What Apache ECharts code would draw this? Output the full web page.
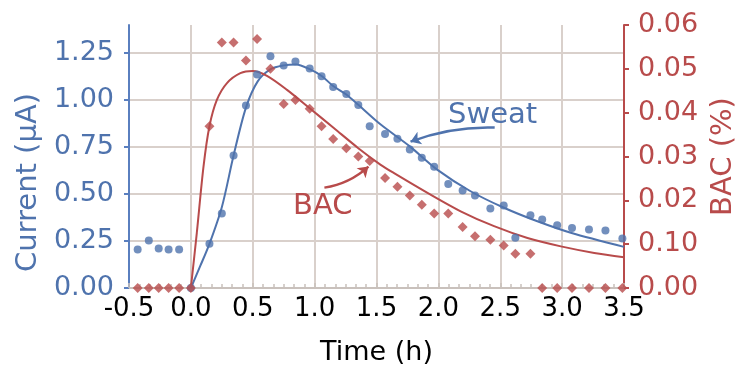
<!DOCTYPE html>
<html>
<head>
<meta charset="utf-8">
<script src="https://cdn.jsdelivr.net/npm/echarts@6/dist/echarts.min.js"></script>
<style>html,body{margin:0;padding:0;background:#fff}#c{width:743px;height:368px}</style>
</head>
<body>
<div id="c"></div>
<script>
// sampling times (h)
const times = [-0.43,-0.34,-0.26,-0.18,-0.095,0.0,0.15,0.25,0.345,0.445,0.535,0.643,0.75,0.845,0.96,1.056,1.15,1.256,1.353,1.445,1.569,1.669,1.769,1.866,1.966,2.08,2.196,2.296,2.42,2.528,2.622,2.744,2.839,2.96,3.08,3.217,3.35,3.487];
// sweat current (uA)
const sweat = [0.205,0.253,0.21,0.205,0.205,0.0,0.235,0.396,0.705,0.972,1.136,1.233,1.185,1.206,1.168,1.127,1.07,1.033,0.974,0.861,0.82,0.794,0.737,0.693,0.645,0.554,0.519,0.492,0.423,0.439,0.267,0.387,0.364,0.334,0.32,0.311,0.306,0.263];
// blood alcohol (%)
const bac = [0,0,0,0,0,0,0.0369,0.056,0.056,0.0519,0.0568,0.050,0.042,0.0429,0.0409,0.0369,0.034,0.0319,0.030,0.029,0.0251,0.0231,0.0211,0.019,0.017,0.017,0.0139,0.0118,0.011,0.0097,0.0078,0.0078,0,0,0,0,0,0];
// fitted curves
const sweatFitT = [0,0.075,0.15,0.25,0.345,0.445,0.54,0.645,0.75,0.85,0.96,1.06,1.15,1.256,1.353,1.534,1.769,1.99,2.26,2.53,2.80,3.07,3.5];
const sweatFitV = [0,0.116,0.235,0.43,0.705,0.96,1.10,1.165,1.185,1.19,1.165,1.127,1.075,1.03,0.975,0.87,0.754,0.63,0.515,0.427,0.355,0.294,0.219];
const bacFitT = [0,0.048,0.102,0.15,0.21,0.29,0.4,0.5,0.615,0.777,0.96,1.155,1.353,1.534,1.642,1.912,2.18,2.45,2.72,2.99,3.26,3.5];
const bacFitV = [0,0.0126,0.0277,0.0369,0.0429,0.0467,0.049,0.0495,0.0484,0.0452,0.041,0.0365,0.0319,0.0281,0.0262,0.0217,0.0175,0.0141,0.0114,0.0095,0.008,0.007];
// tick labels
const xTicks = [-0.5,0,0.5,1,1.5,2,2.5,3,3.5];
const leftTicks = [0,0.25,0.5,0.75,1.0,1.25];
const rightTickLabels = ['0.00','0.10','0.02','0.03','0.04','0.05','0.06'];
// annotation arrows (data units: [time, value])
const sweatArrow = [[2.455, 0.854], [1.775, 0.779]];
const bacArrow = [[1.079, 0.0229], [1.435, 0.0277]];

const BLUE = '#4f73ad', RED = '#b84b4b', GRID = '#d9d0cb', FONT = 'DejaVu Sans';
const zip = (a, b) => a.map((v, i) => [v, b[i]]);

const chart = echarts.init(document.getElementById('c'), null, {renderer: 'canvas'});
chart.setOption({
  animation: false,
  backgroundColor: '#fff',
  title: [
    {text: 'Sweat', left: 448, top: 100, padding: 0,
      textStyle: {color: BLUE, fontSize: 29, fontFamily: FONT, fontWeight: 'normal', lineHeight: 30}},
    {text: 'BAC', left: 293, top: 191, padding: 0,
      textStyle: {color: RED, fontSize: 29, fontFamily: FONT, fontWeight: 'normal', lineHeight: 30}}
  ],
  grid: {left: 129, right: 119, top: 25, bottom: 80, containLabel: false, outerBoundsMode: 'none'},
  xAxis: {
    type: 'value', min: xTicks[0], max: xTicks[xTicks.length - 1], interval: 0.5,
    name: 'Time (h)', nameLocation: 'middle', nameGap: 51,
    nameTextStyle: {color: '#000', fontSize: 27, fontFamily: FONT},
    axisLine: {onZero: false, lineStyle: {color: '#c9c1bc', width: 2}},
    axisTick: {show: true, inside: true, length: 5, lineStyle: {color: '#c9c1bc', width: 1.5}},
    minorTick: {show: true, splitNumber: 6, length: 4, lineStyle: {color: '#c9c1bc', width: 1.5}},
    axisLabel: {color: '#000', fontSize: 26, fontFamily: FONT, margin: 8, formatter: v => v.toFixed(1)},
    splitLine: {show: true, lineStyle: {color: GRID, width: 2}}
  },
  yAxis: [{
    type: 'value', min: 0, max: 1.4, interval: 0.25, position: 'left',
    name: 'Current (µA)', nameLocation: 'middle', nameRotate: 90, nameGap: 86,
    nameTextStyle: {color: BLUE, fontSize: 29, fontFamily: FONT, padding: [0, 52, 0, 0]},
    axisLine: {show: true, onZero: false, lineStyle: {color: '#5a7fbf', width: 2}},
    axisTick: {show: true, length: 5, customValues: leftTicks, lineStyle: {color: '#5a7fbf', width: 2}},
    axisLabel: {color: BLUE, fontSize: 27, fontFamily: FONT, margin: 15, customValues: leftTicks, formatter: v => v.toFixed(2)},
    splitLine: {show: true, lineStyle: {color: GRID, width: 2}}
  }, {
    type: 'value', min: 0, max: 0.06, interval: 0.01, position: 'right',
    name: 'BAC (%)', nameLocation: 'middle', nameRotate: 90, nameGap: 82,
    nameTextStyle: {color: RED, fontSize: 29, fontFamily: FONT},
    axisLine: {show: true, onZero: false, lineStyle: {color: RED, width: 2}},
    axisTick: {show: true, length: 5, lineStyle: {color: RED, width: 2}},
    axisLabel: {color: RED, fontSize: 27, fontFamily: FONT, margin: 14,
      formatter: v => rightTickLabels[Math.round(v / 0.01)]},
    splitLine: {show: false}
  }],
  series: [{
    type: 'line', yAxisIndex: 0, data: zip(sweatFitT, sweatFitV), smooth: 0.3, showSymbol: false,
    lineStyle: {color: BLUE, width: 2}
  }, {
    type: 'line', yAxisIndex: 1, data: zip(bacFitT, bacFitV), smooth: 0.3, showSymbol: false,
    lineStyle: {color: RED, width: 2}
  }, {
    type: 'scatter', yAxisIndex: 0, data: zip(times, sweat), symbol: 'circle', symbolSize: 8,
    itemStyle: {color: BLUE}, z: 3
  }, {
    type: 'scatter', yAxisIndex: 1, data: zip(times, bac), symbol: 'diamond', symbolSize: 10,
    itemStyle: {color: RED}, z: 4
  }, {
    type: 'lines', coordinateSystem: 'cartesian2d', xAxisIndex: 0, yAxisIndex: 0,
    data: [{coords: sweatArrow}], symbol: ['none', 'arrow'], symbolSize: 10,
    lineStyle: {color: BLUE, width: 2.5, curveness: -0.1, opacity: 1}, z: 5
  }, {
    type: 'lines', coordinateSystem: 'cartesian2d', xAxisIndex: 0, yAxisIndex: 1,
    data: [{coords: bacArrow}], symbol: ['none', 'arrow'], symbolSize: 10,
    lineStyle: {color: RED, width: 2.5, curveness: -0.15, opacity: 1}, z: 5
  }]
});
</script>
</body>
</html>
